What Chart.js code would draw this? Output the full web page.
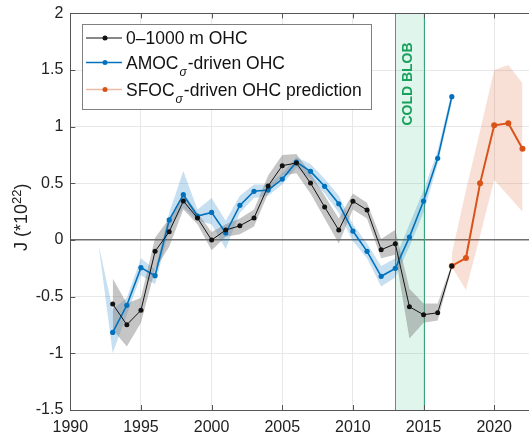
<!DOCTYPE html>
<html><head><meta charset="utf-8">
<script src="https://cdn.jsdelivr.net/npm/chart.js@4/dist/chart.umd.min.js"></script>
<style>html,body{margin:0;padding:0;background:#fff;overflow:hidden;}#wrap{width:529px;height:436px;}</style>
</head><body><div id="wrap"><canvas id="c" width="529" height="436"></canvas></div>
<script>
// ---- data ----
const obsYears = [1993,1994,1995,1996,1997,1998,1999,2000,2001,2002,2003,2004,2005,2006,2007,2008,2009,2010,2011,2012,2013,2014,2015,2016,2017];
const ohc      = [-0.565,-0.748,-0.62,-0.10,0.073,0.344,0.194,0.00,0.088,0.126,0.194,0.477,0.656,0.68,0.503,0.291,0.088,0.342,0.265,-0.086,-0.033,-0.589,-0.659,-0.642,-0.229];
const ohcUpper = [-0.34,-0.56,-0.51,0.02,0.19,0.41,0.24,0.07,0.14,0.19,0.27,0.57,0.75,0.76,0.59,0.39,0.19,0.41,0.33,0.01,0.09,-0.43,-0.56,-0.56,-0.21];
const ohcLower = [-0.79,-0.94,-0.73,-0.26,-0.06,0.27,0.14,-0.09,0.03,0.05,0.12,0.41,0.57,0.59,0.41,0.19,-0.03,0.27,0.19,-0.16,-0.13,-0.87,-0.73,-0.71,-0.25];

const amoc     = [-0.815,-0.576,-0.244,-0.315,0.177,0.40,0.212,0.244,0.062,0.306,0.43,0.441,0.538,0.688,0.606,0.474,0.32,0.079,-0.10,-0.32,-0.25,0.026,0.344,0.721,1.265];
const amocBandYears = [1992,1993,1994,1995,1996,1997,1998,1999,2000,2001,2002,2003,2004,2005,2006,2007,2008,2009,2010,2011,2012,2013,2014,2015,2016,2017];
const amocUpper = [-0.04,-0.61,-0.51,-0.16,-0.26,0.24,0.61,0.27,0.37,0.17,0.39,0.49,0.49,0.59,0.73,0.67,0.54,0.39,0.14,-0.03,-0.23,-0.16,0.14,0.44,0.79,1.31];
const amocLower = [-0.04,-1.00,-0.66,-0.31,-0.39,0.09,0.29,0.17,0.14,-0.08,0.24,0.37,0.39,0.49,0.64,0.54,0.41,0.24,-0.01,-0.16,-0.41,-0.33,-0.06,0.24,0.67,1.21];

const predYears = [2017,2018,2019,2020,2021,2022];
const pred      = [-0.229,-0.159,0.50,1.012,1.03,0.806];
const predUpper = [-0.12,0.44,0.965,1.50,1.545,1.383];
const predLower = [-0.235,-0.44,0.038,0.53,0.39,0.25];

const xTicks = [1990,1995,2000,2005,2010,2015,2020];
const yTicks = [-1.5,-1,-0.5,0,0.5,1,1.5,2];
const coldBlob = [2013,2015];
const legendMain = ['0\u20131000 m OHC','AMOC','SFOC'];
const legendSub  = ['','\u03c3','\u03c3'];
const legendRest = ['','-driven OHC','-driven OHC prediction'];

const FONT = '"Liberation Sans", Arial, Helvetica, sans-serif';
const pts = (xs, ys) => xs.map((x,i)=>({x:x, y:ys[i]}));

const BLACK='#111111', BLUE='#0072BD', ORANGE='#D95319';
// plot frame in the figure (right edge lies beyond the cropped picture)
const FRAME = {L:70.3, R:536.6, T:13.4, B:410, H:436};

const decor = {
  id:'decor',
  afterLayout(chart){
    const a = chart.chartArea, x = chart.scales.x, y = chart.scales.y, F = FRAME;
    a.left=F.L; a.right=F.R; a.top=F.T; a.bottom=F.B; a.width=F.R-F.L; a.height=F.B-F.T;
    x.left=F.L; x.right=F.R; x.width=F.R-F.L; x.top=F.B; x.bottom=F.H; x.height=F.H-F.B; x.configure();
    y.left=0; y.right=F.L; y.width=F.L; y.top=F.T; y.bottom=F.B; y.height=F.B-F.T; y.configure();
  },
  beforeDatasetsDraw(chart){
    const {ctx, chartArea:a, scales:{x}} = chart;
    const x0 = x.getPixelForValue(coldBlob[0]), x1 = x.getPixelForValue(coldBlob[1]);
    ctx.save();
    ctx.fillStyle='rgba(0,170,100,0.12)';
    ctx.fillRect(x0, a.top, x1-x0, a.bottom-a.top);
    ctx.strokeStyle='#3aa57a'; ctx.lineWidth=1;
    ctx.beginPath();
    ctx.moveTo(Math.round(x0)+0.5,a.top); ctx.lineTo(Math.round(x0)+0.5,a.bottom);
    ctx.moveTo(Math.round(x1)+0.5,a.top); ctx.lineTo(Math.round(x1)+0.5,a.bottom);
    ctx.stroke();
    ctx.restore();
  },
  afterDraw(chart){
    const {ctx, chartArea:a, scales:{x,y}} = chart;
    ctx.save();
    // frame top + inward ticks
    ctx.strokeStyle='#555'; ctx.lineWidth=1;
    ctx.beginPath();
    ctx.moveTo(a.left, Math.round(a.top)+0.5); ctx.lineTo(a.right, Math.round(a.top)+0.5);
    xTicks.forEach(v=>{const px=Math.round(x.getPixelForValue(v))+0.5;
      ctx.moveTo(px,a.bottom); ctx.lineTo(px,a.bottom-5);
      ctx.moveTo(px,a.top); ctx.lineTo(px,a.top+5);});
    yTicks.forEach(v=>{const py=Math.round(y.getPixelForValue(v))+0.5;
      ctx.moveTo(a.left,py); ctx.lineTo(a.left+5,py);});
    ctx.stroke();
    // COLD BLOB label
    const cx = (x.getPixelForValue(coldBlob[0])+x.getPixelForValue(coldBlob[1]))/2;
    ctx.save();
    ctx.translate(cx-1, 84); ctx.rotate(-Math.PI/2);
    ctx.fillStyle='#17a15c'; ctx.font='bold 14px '+FONT;
    ctx.textAlign='center'; ctx.textBaseline='middle';
    ctx.fillText('COLD BLOB',0,0);
    ctx.restore();
    // y-axis title
    ctx.save();
    ctx.translate(27, 251); ctx.rotate(-Math.PI/2);
    ctx.fillStyle='#222'; ctx.textAlign='left'; ctx.textBaseline='alphabetic';
    ctx.font='18px '+FONT;
    let t1='J (*10'; ctx.fillText(t1,0,0); let w=ctx.measureText(t1).width;
    ctx.font='13px '+FONT; ctx.fillText('22',w,-6); w+=ctx.measureText('22').width;
    ctx.font='18px '+FONT; ctx.fillText(')',w,0);
    ctx.restore();
    // legend
    ctx.fillStyle='#fff'; ctx.fillRect(82,24,289,85);
    ctx.strokeStyle='#808080'; ctx.lineWidth=1; ctx.strokeRect(82.5,24.5,289,85);
    const lineY=[38,62.5,89.5];
    const lineCol=[BLACK,BLUE,'#ebbba5'], dotCol=[BLACK,BLUE,ORANGE];
    for(let i=0;i<3;i++){
      ctx.strokeStyle=lineCol[i]; ctx.lineWidth= i===0?1:1.5;
      ctx.beginPath(); ctx.moveTo(86,lineY[i]); ctx.lineTo(122,lineY[i]); ctx.stroke();
      ctx.fillStyle=dotCol[i]; ctx.beginPath(); ctx.arc(105,lineY[i],2.5,0,Math.PI*2); ctx.fill();
      ctx.fillStyle='#111'; ctx.textAlign='left'; ctx.textBaseline='alphabetic';
      ctx.font='17.5px '+FONT;
      const base = lineY[i]+6;
      let tx=126; ctx.fillText(legendMain[i],tx,base); tx+=ctx.measureText(legendMain[i]).width;
      if(legendSub[i]){
        ctx.font='italic 12px '+FONT; ctx.fillText(legendSub[i],tx+1,base+7);
        tx+=ctx.measureText(legendSub[i]).width+2;
        ctx.font='17.5px '+FONT; ctx.fillText(legendRest[i],tx,base);
      }
    }
    ctx.restore();
  }
};

const lineDs = (label, xs, ys, col, bw, r) => ({
  label, data:pts(xs,ys), borderColor:col, backgroundColor:col, borderWidth:bw,
  pointRadius:r, pointBackgroundColor:col, pointBorderWidth:0, pointHoverRadius:r,
  fill:false, tension:0, order:0
});
const bandPair = (xs, up, lo, col) => ([
  {label:'u', data:pts(xs,up), borderWidth:0, borderColor:'rgba(0,0,0,0)', pointRadius:0, backgroundColor:col, fill:'+1', tension:0, order:5},
  {label:'l', data:pts(xs,lo), borderWidth:0, borderColor:'rgba(0,0,0,0)', pointRadius:0, fill:false, tension:0, order:5}
]);

new Chart(document.getElementById('c'), {
  type:'line',
  data:{datasets:[
    lineDs('0–1000 m OHC', obsYears, ohc, BLACK, 1, 2.5),
    lineDs('AMOC-driven OHC', obsYears, amoc, BLUE, 1.6, 2.6),
    lineDs('SFOC-driven OHC prediction', predYears, pred, ORANGE, 2, 3),
    ...bandPair(obsYears, ohcUpper, ohcLower, 'rgba(110,110,110,0.40)'),
    ...bandPair(amocBandYears, amocUpper, amocLower, 'rgba(0,114,189,0.22)'),
    ...bandPair(predYears, predUpper, predLower, 'rgba(217,83,25,0.18)')
  ]},
  options:{
    responsive:false, animation:false, devicePixelRatio:1,
    layout:{padding:{top:13,right:0,left:0,bottom:0}},
    plugins:{legend:{display:false}, tooltip:{enabled:false}},
    scales:{
      x:{type:'linear', min:1990, max:2023,
        afterBuildTicks:s=>{s.ticks=xTicks.map(v=>({value:v}));},
        afterFit:s=>{s.height=26;},
        ticks:{callback:v=>String(v), font:{family:FONT,size:16}, color:'#222', padding:8, maxRotation:0, autoSkip:false},
        grid:{color:'#e8e8e8', drawTicks:false},
        border:{display:true, color:'#555', width:1}},
      y:{type:'linear', min:-1.5, max:2,
        afterBuildTicks:s=>{s.ticks=yTicks.map(v=>({value:v}));},
        afterFit:s=>{s.width=70.3;},
        ticks:{callback:v=>String(v), font:{family:FONT,size:16}, color:'#222', padding:7},
        grid:{color:c=>c.tick && c.tick.value===0?'#6e6e6e':'#e8e8e8', lineWidth:c=>c.tick && c.tick.value===0?1.5:1, drawTicks:false},
        border:{display:true, color:'#555', width:1}}
    }
  },
  plugins:[decor]
});
</script></body></html>
